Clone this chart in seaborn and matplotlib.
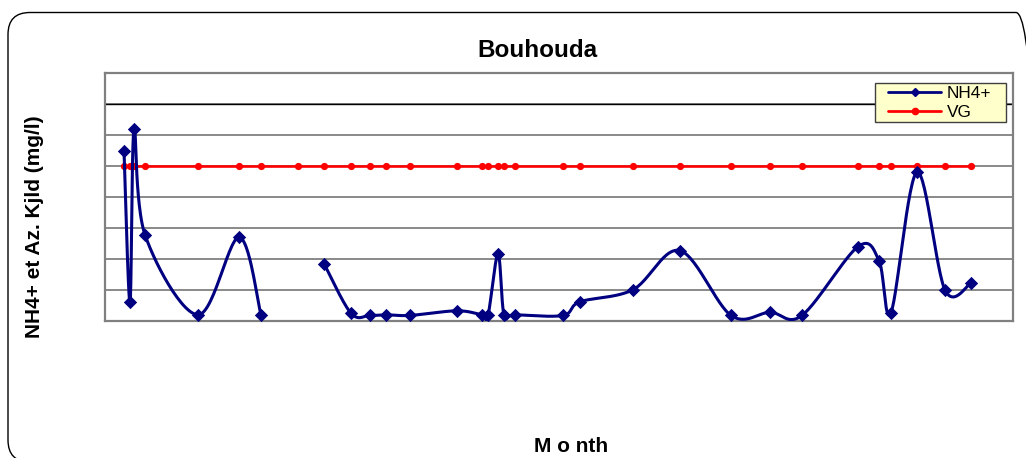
import numpy as np
import pandas as pd
import matplotlib
matplotlib.use("Agg")
import matplotlib.pyplot as plt
import seaborn as sns
from matplotlib.patches import FancyBboxPatch, Rectangle
from matplotlib.lines import Line2D

# ---- data (x in days from start of record) ----
days = [19, 25, 29, 40, 93, 134, 156, 193, 219, 246, 265, 281, 305, 352, 377, 383,
        393, 399, 410, 458, 475, 528, 575, 626, 665, 697, 753, 774, 786, 812, 840, 866]
nh4 = [5.49, 0.60, 6.19, 2.78, 0.20, 2.70, 0.20, np.nan, 1.85, 0.25, 0.18, 0.20, 0.18,
       0.33, 0.20, 0.18, 2.16, 0.20, 0.20, 0.18, 0.62, 1.01, 2.27, 0.18, 0.28, 0.18,
       2.40, 1.95, 0.27, 4.80, 1.00, 1.22]
vg = [5.0] * len(days)
series_names = ["NH4+", "VG"]
title = "Bouhouda"
ylabel = "NH4+ et Az. Kjld (mg/l)"
xlabel = "M o nth"

sns.set_style("white")
plt.rcParams['font.family'] = ['Liberation Sans', 'DejaVu Sans']
plt.rcParams['text.color'] = 'black'

W, H = 1026, 458
fig = plt.figure(figsize=(W / 100, H / 100), dpi=100)

# rounded chart-area border
border = FancyBboxPatch((0.08, -0.04), 10.30, 4.495,
                        boxstyle="round,pad=0,rounding_size=0.22",
                        transform=fig.dpi_scale_trans, fill=False,
                        edgecolor="black", linewidth=1.0)
fig.patches.append(border)

ax = fig.add_axes([105 / W, 1 - 321 / H, (1013 - 105) / W, (321 - 73) / H])


def smooth_segments(x, y, n=30):
    """Excel-like smoothed line (Bezier through points), broken at NaN."""
    x = np.asarray(x, float)
    y = np.asarray(y, float)
    rows = []
    seg = 0
    idx = np.where(~np.isnan(y))[0]
    groups = np.split(idx, np.where(np.diff(idx) != 1)[0] + 1)
    for g in groups:
        px, py = x[g], y[g]
        m = len(px)
        if m == 1:
            rows.append((px[0], py[0], seg))
        for i in range(m - 1):
            i0 = max(i - 1, 0)
            i3 = min(i + 2, m - 1)
            p0 = np.array([px[i0], py[i0]])
            p1 = np.array([px[i], py[i]])
            p2 = np.array([px[i + 1], py[i + 1]])
            p3 = np.array([px[i3], py[i3]])
            c1 = p1 + (p2 - p0) / 6.0
            c2 = p2 - (p3 - p1) / 6.0
            t = np.linspace(0, 1, n)[:, None]
            pts = ((1 - t) ** 3) * p1 + 3 * ((1 - t) ** 2) * t * c1 + \
                3 * (1 - t) * t ** 2 * c2 + t ** 3 * p2
            for p in pts:
                rows.append((p[0], p[1], seg))
        seg += 1
    return pd.DataFrame(rows, columns=["x", "y", "seg"])


curve = smooth_segments(days, nh4)
df = pd.DataFrame({"x": days, "nh4": nh4, "vg": vg})

navy = "#000080"
red = "#FF0000"

# VG line + markers
sns.lineplot(data=df, x="x", y="vg", ax=ax, color=red, lw=1.9,
             marker="o", markersize=5.2, markeredgewidth=0, zorder=3,
             estimator=None, sort=False)
# NH4+ smoothed line
sns.lineplot(data=curve, x="x", y="y", units="seg", estimator=None, sort=False,
             ax=ax, color=navy, lw=2.2, zorder=4)
# NH4+ markers
sns.scatterplot(data=df.dropna(), x="x", y="nh4", ax=ax, marker="D", s=46,
                color=navy, edgecolor=navy, linewidth=0, zorder=5)

ax.set_xlim(0, 908)
ax.set_ylim(0, 8)
ax.set_yticks(range(0, 9))
ax.set_xticks([])
ax.yaxis.grid(True, color="#808080", lw=1.3)
ax.set_axisbelow(True)
ax.axhline(7, color="black", lw=1.0, zorder=1)
ax.tick_params(length=0, labelleft=False, labelbottom=False)
ax.set_xlabel("")
ax.set_ylabel("")
for s in ax.spines.values():
    s.set_color("#808080")
    s.set_linewidth(1.6)

# legend box (Excel-style, pale yellow)
px2in = 1 / 100
legbox = Rectangle((875 * px2in, (H - 122) * px2in), 131 * px2in, 39 * px2in,
                   transform=fig.dpi_scale_trans, facecolor="#FFFFCC",
                   edgecolor="#404040", linewidth=1.0, zorder=20)
fig.add_artist(legbox)

handles = [Line2D([], [], color=navy, lw=2.0, marker="D", markersize=4.5),
           Line2D([], [], color=red, lw=2.0, marker="o", markersize=4.5)]
leg = fig.legend(handles, series_names, loc="upper left",
                 bbox_to_anchor=(888 / W, 1 - 86 / H), bbox_transform=fig.transFigure,
                 fontsize=12.4, frameon=False, handlelength=3.1,
                 handletextpad=0.3, borderpad=0, labelspacing=0.22,
                 borderaxespad=0)
leg.set_zorder(25)
for t in leg.get_texts():
    t.set_color("black")

fig.text(537 / W, 1 - 57 / H, title, ha="center", va="baseline",
         fontsize=17.5, fontweight="bold")
fig.text(35 / W, 1 - 227 / H, ylabel, ha="center", va="center", rotation=90,
         fontsize=15, fontweight="bold")
fig.text(571 / W, 1 - 452 / H, xlabel, ha="center", va="baseline",
         fontsize=15, fontweight="bold")

fig.savefig("out.png", dpi=100)
